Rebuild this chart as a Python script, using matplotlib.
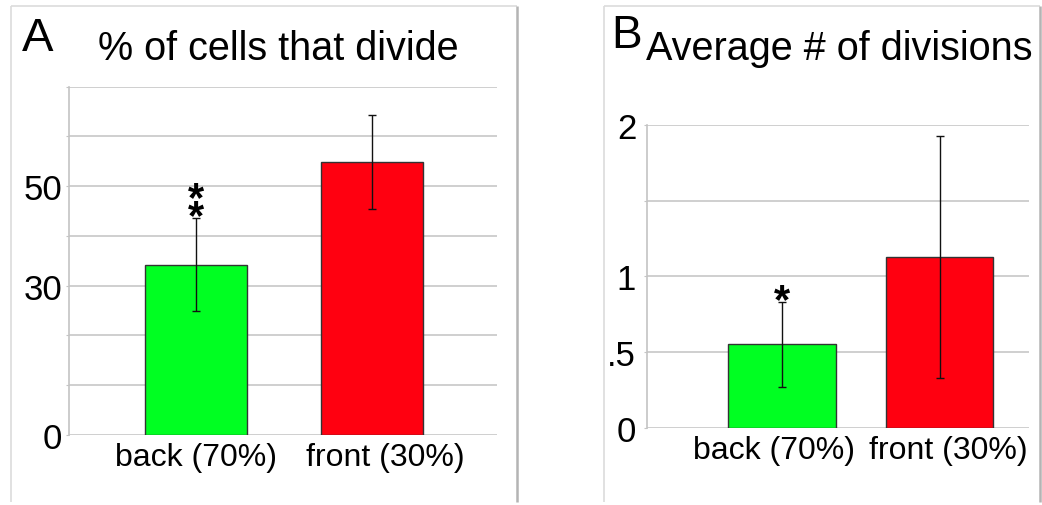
import matplotlib.pyplot as plt
from matplotlib.lines import Line2D
from matplotlib.transforms import ScaledTranslation

plt.rcParams['font.family'] = ['Liberation Sans', 'DejaVu Sans']

# data
groups = ['back (70%)', 'front (30%)']
colors = ['#00ff22', '#ff0010']

pct_mean = [34.2, 54.9]
pct_err = [9.3, 9.4]
pct_ticks = [0, 10, 20, 30, 40, 50, 60, 70]
pct_ticklabels = ['0', '', '', '30', '', '50', '', '']
pct_stars = 2

div_mean = [0.55, 1.13]
div_err = [0.28, 0.80]
div_ticks = [0, 0.5, 1, 1.5, 2]
div_ticklabels = ['0', '.5', '1', '', '2']
div_stars = 1

W, H = 1042, 506
fig = plt.figure(figsize=(W / 100, H / 100), dpi=100)


def frame(x0, x1, y0=7, y1=503):
    # panel box, open at the bottom like the reference
    kw = dict(transform=fig.transFigure, solid_capstyle='butt')
    fig.add_artist(Line2D([x0 / W, x0 / W], [1 - y0 / H, 1 - y1 / H], color='#dcdcdc', lw=1.2, **kw))
    fig.add_artist(Line2D([x0 / W, x1 / W], [1 - y0 / H, 1 - y0 / H], color='#dcdcdc', lw=1.2, **kw))
    fig.add_artist(Line2D([x1 / W, x1 / W], [1 - y0 / H, 1 - y1 / H], color='#b4b4b4', lw=1.8, **kw))


def panel(rect, means, errs, ticks, labels, xlim, width, stars, ypad, xshift):
    ax = fig.add_axes(rect)
    x = list(range(len(groups)))
    ax.set_axisbelow(True)
    ax.yaxis.grid(True, color='#cccccc', lw=1.3)
    ax.bar(x, means, width=width, color=colors, edgecolor='#333333', lw=1.0, zorder=2)
    ax.errorbar(x, means, yerr=errs, fmt='none', ecolor='#111111', elinewidth=1.0,
                capsize=3, capthick=1.0, zorder=3)
    ax.set_xlim(*xlim)
    ax.set_ylim(ticks[0], ticks[-1])
    ax.set_yticks(ticks)
    ax.set_yticklabels(labels)
    ax.set_xticks(x)
    ax.set_xticklabels(groups)
    for s in ['top', 'right', 'bottom']:
        ax.spines[s].set_visible(False)
    ax.spines['left'].set_color('#c4c4c4')
    ax.spines['left'].set_linewidth(1.2)
    ax.tick_params(axis='y', length=2.5, color='#c4c4c4', labelsize=25, pad=ypad)
    ax.tick_params(axis='x', length=0, labelsize=23, pad=5)
    # nudge the category labels sideways as in the reference
    for lab, dx in zip(ax.get_xticklabels(), xshift):
        lab.set_transform(lab.get_transform() + ScaledTranslation(dx / 100, 0, fig.dpi_scale_trans))
    top = means[0] + errs[0]
    ax.annotate('\n'.join(['*'] * stars), (0, top), xytext=(0, -13.5), textcoords='offset points',
                ha='center', va='bottom', fontsize=30, fontweight='bold', linespacing=0.28)
    return ax


frame(11, 517)
frame(604, 1040)

panel([69 / W, 1 - 435.7 / H, 427.7 / W, 348 / H], pct_mean, pct_err,
      pct_ticks, pct_ticklabels, (-0.72, 1.71), 0.58, pct_stars, 2.5, (0, 14))
panel([647.3 / W, 1 - 428.7 / H, 381.7 / W, 302.7 / H], div_mean, div_err,
      div_ticks, div_ticklabels, (-0.854, 1.565), 0.68, div_stars, 5.5, (-8, 8))

fig.text(22 / W, 1 - 51 / H, 'A', fontsize=34, va='baseline', ha='left')
fig.text(98 / W, 1 - 60.5 / H, '% of cells that divide', fontsize=28.5, va='baseline', ha='left')
fig.text(611 / W, 1 - 48 / H, 'B', fontsize=33, va='baseline', ha='left')
fig.text(646 / W, 1 - 60 / H, 'Average # of divisions', fontsize=28.5, va='baseline', ha='left')

fig.savefig('out.png', dpi=100, facecolor='white')
